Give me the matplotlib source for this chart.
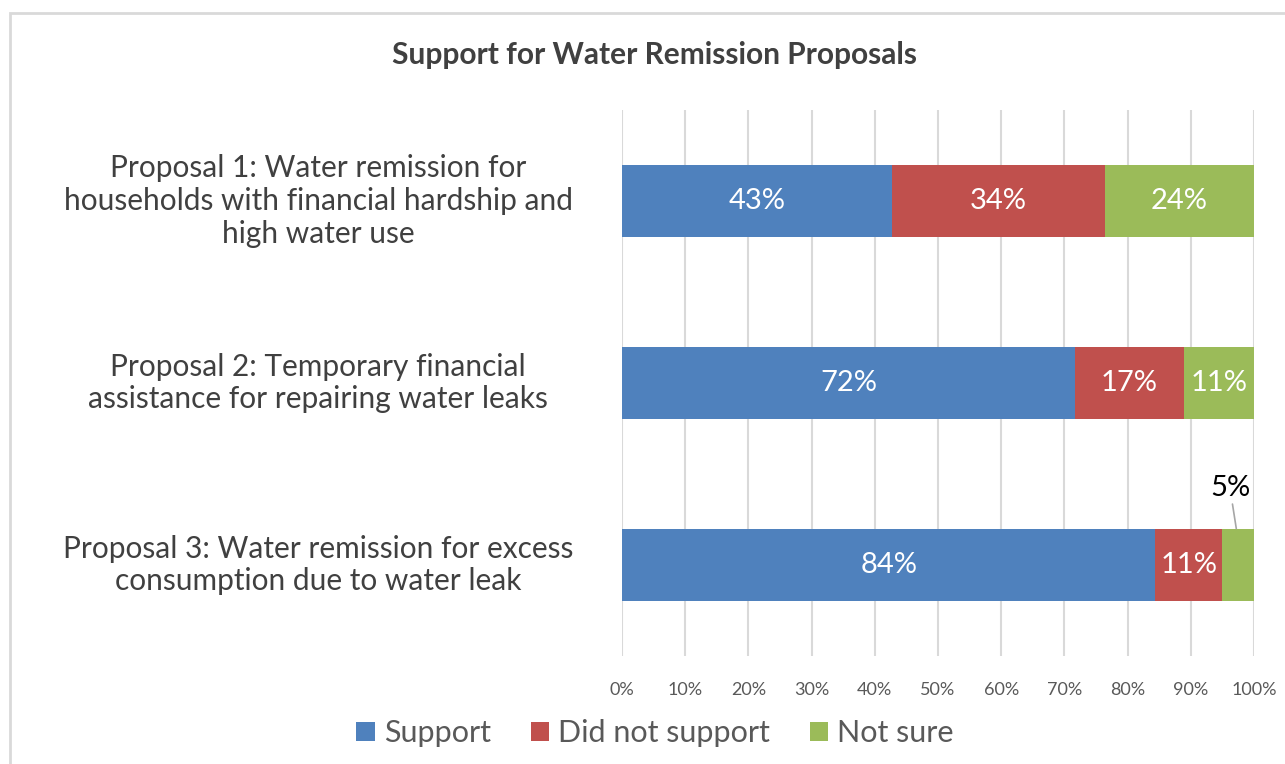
import matplotlib
matplotlib.use("Agg")
import matplotlib.pyplot as plt
from matplotlib.patches import Rectangle
from matplotlib.transforms import blended_transform_factory

# data (percent)
proposals = ["Proposal 1: Water remission for\nhouseholds with financial hardship and\nhigh water use",
             "Proposal 2: Temporary financial\nassistance for repairing water leaks",
             "Proposal 3: Water remission for excess\nconsumption due to water leak"]
series = ["Support", "Did not support", "Not sure"]
support = [42.8, 71.7, 84.4]
not_support = [33.6, 17.2, 10.6]
not_sure = [23.6, 11.1, 5.0]
colors = ["#4F81BD", "#C0504D", "#9BBB59"]
ticks = [0, 10, 20, 30, 40, 50, 60, 70, 80, 90, 100]

plt.rcParams['font.family'] = ['Lato', 'DejaVu Sans']
txt = "#404040"

fig = plt.figure(figsize=(12.85, 7.64), dpi=100)
# chart border
fig.patches.append(Rectangle((10/1285, -0.1), 1.2, 1 - 13/764 + 0.1, transform=fig.transFigure,
                             fill=False, edgecolor="#d9d9d9", linewidth=2))

ax = fig.add_axes([622/1285, 1 - 656/764, 632/1285, 546/764])
y = list(range(len(proposals)))
left = [0] * len(proposals)
for vals, name, c in zip([support, not_support, not_sure], series, colors):
    bars = ax.barh(y, vals, left=left, height=0.4, color=c, label=name, zorder=3)
    for i, (v, l) in enumerate(zip(vals, left)):
        lab = f"{v:.0f}%"
        if v < 8:
            # small segment: label above with leader line
            xc = l + v / 2
            ax.annotate(lab, xy=(xc - 0.3, i - 0.2), xytext=(xc - 1.3, i - 0.35),
                        ha="center", va="bottom", fontsize=21, color="black",
                        arrowprops=dict(arrowstyle="-", color="#a6a6a6", lw=1.2,
                                        shrinkA=0, shrinkB=0))
        else:
            ax.text(l + v / 2, i, lab, ha="center", va="center", color="white", fontsize=21, zorder=4)
    left = [a + b for a, b in zip(left, vals)]

ax.set_xlim(0, 100)
ax.set_ylim(len(proposals) - 0.5, -0.5)
ax.set_xticks(ticks)
ax.set_xticklabels([f"{t}%" for t in ticks], fontsize=13, color="#595959")
ax.tick_params(axis="x", length=0, pad=19)
ax.set_yticks([])
ax.grid(axis="x", color="#d9d9d9", linewidth=1.5, zorder=0)
for s in ax.spines.values():
    s.set_visible(False)

tr = blended_transform_factory(fig.transFigure, ax.transData)
for i, p in enumerate(proposals):
    ax.text(318/1285, i, p, transform=tr, ha="center", va="center", multialignment="center",
            fontsize=21.5, color=txt, linespacing=1.2)

fig.text(655/1285, 1 - 55/764, "Support for Water Remission Proposals", ha="center", va="center",
         fontsize=21.5, fontweight="bold", color=txt)

leg = fig.legend(loc="center", bbox_to_anchor=(655/1285, 1 - 733/764), ncol=3, frameon=False,
                 fontsize=22, handlelength=0.6, handleheight=0.6, handletextpad=0.3,
                 columnspacing=1.3, labelcolor="#595959")

fig.savefig("out.png", dpi=100)
